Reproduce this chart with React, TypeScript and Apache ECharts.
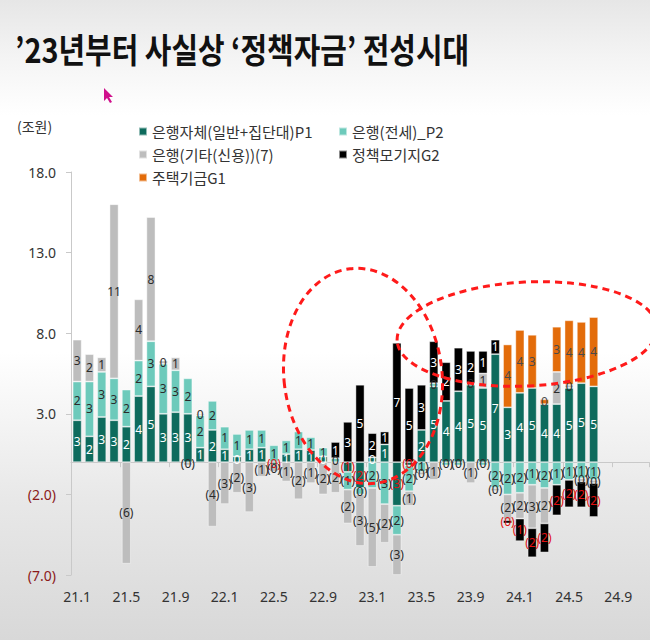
import React, { useEffect, useRef } from "react";
import * as echarts from "echarts";

const months = [
  "21.1", "21.2", "21.3", "21.4", "21.5", "21.6", "21.7", "21.8", "21.9", "21.10", "21.11", "21.12",
  "22.1", "22.2", "22.3", "22.4", "22.5", "22.6", "22.7", "22.8", "22.9", "22.10", "22.11", "22.12",
  "23.1", "23.2", "23.3", "23.4", "23.5", "23.6", "23.7", "23.8", "23.9", "23.10", "23.11", "23.12",
  "24.1", "24.2", "24.3", "24.4", "24.5", "24.6", "24.7", "24.8", "24.9", "24.10", "24.11",
];

const seriesNames = ["은행자체(일반+집단대)P1", "은행(전세)_P2", "은행(기타(신용))(7)", "정책모기지G2", "주택기금G1"];

const bankOwnP1 = [
  2.6, 1.6, 2.8, 2.6, 2.2, 4.1, 4.7, 3.0, 3.1, 3.0, 0.9, 2.0,
  0.8, 0.35, 0.8, 0.9, -0.15, 0.5, 0.8, 0.75, 0.35, null, -0.6, -1.6,
  0.3, 1.1, -2.7, -0.2, 2.0, 4.7, 3.8, 4.4, 4.8, 4.6, 6.7, 3.4,
  4.3, 4.6, 3.6, 3.6, 4.6, 4.9, 4.7,
];
const bankJeonseP2 = [
  2.4, 3.4, 2.8, 2.6, 2.3, 2.2, 2.8, 3.1, 2.6, 2.2, 2.0, 1.8,
  1.4, 1.4, 1.2, 1.1, 1.05, 0.85, 1.1, 0.8, 0.55, 0.25, -1.1, -0.4,
  -1.6, -2.6, -1.8, -1.6, -0.6, 0.2, -0.2, -0.2, 0.1, -0.2, -1.6, -2.0,
  -1.9, -1.4, -1.6, -1.4, -1.1, -1.0, -1.1,
];
const bankOther = [
  2.6, 1.7, 0.9, 10.8, -6.3, 3.8, 7.7, 0.2, 0.8, -0.2, 0.1, -4.0,
  -2.6, -1.9, -3.1, -0.9, -0.45, -1.2, -2.3, -1.3, -2.0, -1.9, -2.1, -3.2,
  -4.9, -2.4, -2.5, -0.9, -0.2, -1.1, null, null, -1.3, 0.9, -0.2, -1.6,
  -1.6, -2.7, -2.2, 2.0, 0.2, -0.2, -0.2,
];
const policyMortgageG2 = [
  null, null, null, null, null, null, null, null, null, null, null, null,
  null, null, null, null, null, null, null, null, null, 1.0, 2.5, 4.8,
  1.5, 0.8, 7.4, 4.6, 2.8, 2.6, 2.4, 2.7, 2.0, 1.4, 0.9, -0.2,
  -1.4, -1.8, -1.8, -1.9, -1.7, -1.6, -2.1,
];
const housingFundG1 = [
  null, null, null, null, null, null, null, null, null, null, null, null,
  null, null, null, null, null, null, null, null, null, null, null, null,
  null, null, null, null, null, null, null, null, null, null, null, 3.9,
  3.9, 3.3, 0.3, 2.8, 4.0, 3.8, 4.3,
];

const yTicks = { min: -7, max: 18, interval: 5 };

const colors = ["#0e6b5d", "#6dcabb", "#bdbdbd", "#000000", "#e36c0a"];
const labelPos = ["#ffffff", "#2b2b2b", "#2b2b2b", "#ffffff", "#4a4a4a"];
const labelNeg = ["#e01010", "#2b2b2b", "#2b2b2b", "#e01010", "#e01010"];

const fmt = (v: number) => (v < 0 ? `(${Math.round(-v)})` : `${Math.round(v)}`);

export default function App() {
  const ref = useRef<HTMLDivElement>(null);
  useEffect(() => {
    const chart = echarts.init(ref.current!, null, { renderer: "svg" });
    const values = [bankOwnP1, bankJeonseP2, bankOther, policyMortgageG2, housingFundG1];
    const series = values.map((arr, si) => ({
      name: seriesNames[si],
      type: "bar",
      stack: "total",
      barWidth: 9,
      itemStyle: { color: colors[si], borderColor: "rgba(255,255,255,0.55)", borderWidth: 0.8 },
      label: {
        show: true,
        position: "inside",
        fontSize: 12,
        fontFamily: "Noto Sans",
        formatter: (p: any) => fmt(p.value),
      },
      data: arr.map((v) =>
        v == null ? null : { value: v, label: { color: v < 0 ? labelNeg[si] : labelPos[si] } }
      ),
    }));

    const legendPos = [
      [138, 124],
      [338, 124],
      [138, 147],
      [338, 147],
      [138, 170],
    ];
    const legends = seriesNames.map((n, i) => ({
      data: [n],
      left: legendPos[i][0],
      top: legendPos[i][1],
      padding: 0,
      icon: "rect",
      itemWidth: 8,
      itemHeight: 8,
      selectedMode: false,
      textStyle: { fontSize: 15, color: "#333", fontFamily: "Noto Sans CJK KR" },
    }));

    chart.setOption({
      animation: false,
      backgroundColor: "transparent",
      grid: { left: 71, top: 172, width: 578, height: 403, containLabel: false, outerBoundsMode: "none" },
      legend: legends,
      xAxis: {
        type: "category",
        data: months,
        axisLine: { onZero: true, lineStyle: { color: "#c9c9c9", width: 1 } },
        axisTick: { show: true, interval: 3, length: 5, lineStyle: { color: "#c9c9c9" } },
        axisLabel: { interval: 3, margin: 14, fontSize: 14, color: "#333", fontFamily: "Noto Sans" },
      },
      yAxis: {
        type: "value",
        min: yTicks.min,
        max: yTicks.max,
        interval: yTicks.interval,
        axisLine: { show: true, lineStyle: { color: "#c9c9c9" } },
        axisTick: { show: true, length: 5, lineStyle: { color: "#c9c9c9" } },
        splitLine: { show: false },
        axisLabel: {
          margin: 15,
          fontSize: 14,
          fontFamily: "Noto Sans",
          color: (v: any) => (Number(v) < 0 ? "#8b1a1a" : "#333"),
          formatter: (v: number) => (v < 0 ? `(${Math.abs(v).toFixed(1)})` : v.toFixed(1)),
        },
      },
      graphic: [
        {
          type: "text",
          x: 15,
          y: 31,
          scaleX: 0.85,
          z: 10,
          style: {
            text: "’23년부터 사실상 ‘정책자금’ 전성시대",
            font: 'bold 34px "Noto Sans CJK KR"',
            fill: "#111",
          },
        },
        {
          type: "text",
          x: 17,
          y: 119,
          style: { text: "(조원)", font: '14px "Noto Sans CJK KR"', fill: "#333" },
        },
        {
          type: "polygon",
          z: 10,
          shape: { points: [[104, 88], [104, 101], [107, 98], [110, 103], [112, 102], [109, 97], [113, 97]] },
          style: { fill: "#d0108c" },
        },
        {
          type: "ellipse",
          x: 363,
          y: 376,
          rotation: 0.12,
          z: 100,
          shape: { cx: 0, cy: 0, rx: 79, ry: 108 },
          style: { fill: "none", stroke: "#ff1a1a", lineWidth: 3, lineDash: [7, 5] },
        },
        {
          type: "ellipse",
          x: 527,
          y: 334,
          rotation: 0.05,
          z: 100,
          shape: { cx: 0, cy: 0, rx: 130, ry: 52 },
          style: { fill: "none", stroke: "#ff1a1a", lineWidth: 3, lineDash: [7, 5] },
        },
      ],
      series,
    });
    return () => chart.dispose();
  }, []);
  return (
    <div
      ref={ref}
      style={{
        position: "fixed",
        left: 0,
        top: 0,
        width: 650,
        height: 640,
        background:
          "linear-gradient(180deg, #e6e6e6 0%, #f4f4f4 9%, #ffffff 18%, #ffffff 55%, #e8e8e8 78%, #d8d8d8 100%)",
      }}
    />
  );
}
